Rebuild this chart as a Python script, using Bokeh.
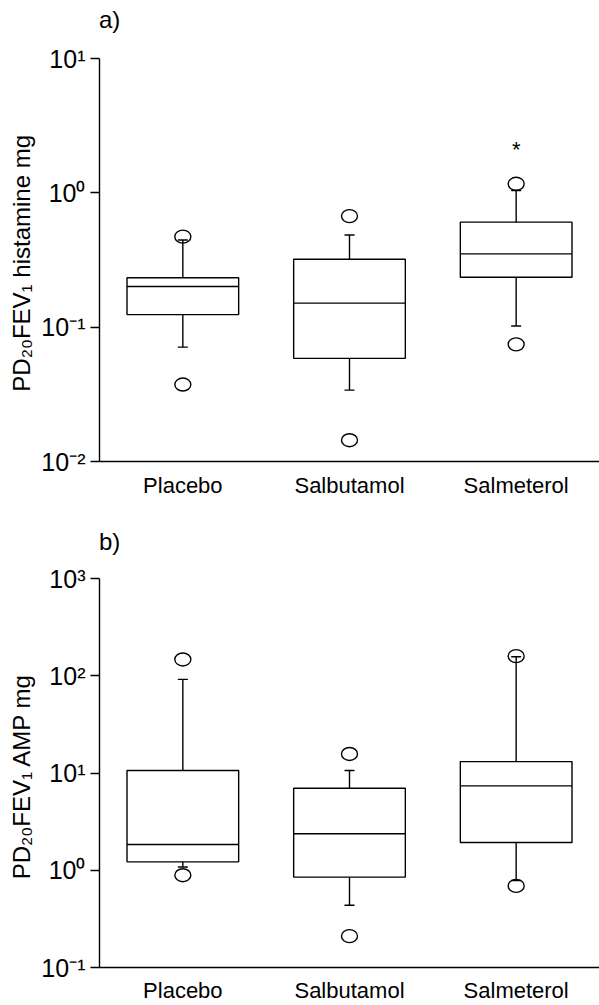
from bokeh.plotting import figure
from bokeh.models import FixedTicker, Label, Range1d, Div
from bokeh.layouts import column
from bokeh.embed import file_html
from bokeh.resources import INLINE

FONT = "Liberation Sans"

categories = ["Placebo", "Salbutamol", "Salmeterol"]
cat_x = [0.5, 1.5, 2.5]

# ---- panel a) PD20FEV1 histamine (mg)
hist_low = [0.071, 0.034, 0.102]
hist_q1 = [0.124, 0.0586, 0.2355]
hist_med = [0.201, 0.151, 0.351]
hist_q3 = [0.233, 0.320, 0.605]
hist_high = [0.445, 0.485, 1.04]
hist_out_cat = [0, 0, 1, 1, 2, 2]
hist_out_val = [0.472, 0.0374, 0.671, 0.0144, 1.167, 0.0745]
hist_star_cat = [2]
hist_star_val = [2.26]
hist_ticks = [0.01, 0.1, 1, 10]
hist_tick_labels = ["10\u207b\u00b2", "10\u207b\u00b9", "10\u2070", "10\u00b9"]

# ---- panel b) PD20FEV1 AMP (mg)
amp_low = [1.08, 0.436, 0.785]
amp_q1 = [1.22, 0.849, 1.93]
amp_med = [1.84, 2.37, 7.37]
amp_q3 = [10.6, 6.98, 13.1]
amp_high = [91.8, 10.6, 157]
amp_out_cat = [0, 0, 1, 1, 2, 2]
amp_out_val = [147, 0.889, 15.7, 0.21, 159, 0.69]
amp_ticks = [0.1, 1, 10, 100, 1000]
amp_tick_labels = ["10\u207b\u00b9", "10\u2070", "10\u00b9", "10\u00b2", "10\u00b3"]

LW = 1.4
BOX_W = 0.67


def panel(ylabel, low, q1, med, q3, high, out_cat, out_val, ticks, tick_labels,
          height, border_top, border_bottom, xstandoff, star_cat=None, star_val=None):
    p = figure(width=599, height=height, output_backend="svg", toolbar_location=None,
               x_range=Range1d(0, 3), y_range=Range1d(ticks[0], ticks[-1]),
               y_axis_type="log", min_border_left=99, min_border_right=0,
               min_border_top=border_top, min_border_bottom=border_bottom)
    p.outline_line_color = None
    p.grid.visible = False
    p.background_fill_color = "white"

    p.vbar(x=cat_x, width=BOX_W, bottom=q1, top=q3, fill_color="white",
           line_color="black", line_width=LW)
    x0 = [x - BOX_W / 2 for x in cat_x]
    x1 = [x + BOX_W / 2 for x in cat_x]
    p.segment(x0=x0, x1=x1, y0=med, y1=med, line_color="black", line_width=LW)
    p.segment(x0=cat_x, x1=cat_x, y0=q3, y1=high, line_color="black", line_width=LW)
    p.segment(x0=cat_x, x1=cat_x, y0=q1, y1=low, line_color="black", line_width=LW)
    p.scatter(x=cat_x, y=high, marker="dash", size=10, line_color="black", line_width=LW)
    p.scatter(x=cat_x, y=low, marker="dash", size=10, line_color="black", line_width=LW)
    ox = [cat_x[c] for c in out_cat]
    p.ellipse(x=ox, y=out_val, width=16, height=13, width_units="screen",
              height_units="screen", fill_color=None, line_color="black", line_width=LW)
    if star_cat:
        for c, v in zip(star_cat, star_val):
            p.add_layout(Label(x=cat_x[c], y=v, text="*", text_align="center",
                               text_baseline="middle", text_font=FONT, text_color="black",
                               text_font_size="22px", y_offset=-4))

    # y axis
    ya = p.yaxis[0]
    ya.ticker = FixedTicker(ticks=ticks)
    ya.major_label_overrides = {t: l for t, l in zip(ticks, tick_labels)}
    ya.axis_line_width = LW
    ya.major_tick_line_width = LW
    ya.major_tick_out = 9
    ya.major_tick_in = 0
    ya.minor_tick_line_color = None
    ya.major_label_standoff = 5
    ya.major_label_text_font = FONT
    ya.major_label_text_font_size = "25px"
    ya.major_label_text_color = "black"
    ya.axis_label = ylabel
    ya.axis_label_text_font = FONT
    ya.axis_label_text_font_size = "24px"
    ya.axis_label_text_font_style = "normal"
    ya.axis_label_text_color = "black"
    ya.axis_label_standoff = 3

    # x axis
    xa = p.xaxis[0]
    xa.ticker = FixedTicker(ticks=cat_x)
    xa.major_label_overrides = {x: c for x, c in zip(cat_x, categories)}
    xa.axis_line_width = LW
    xa.major_tick_line_color = None
    xa.minor_tick_line_color = None
    xa.major_label_standoff = xstandoff
    xa.major_label_text_font = FONT
    xa.major_label_text_font_size = "22px"
    xa.major_label_text_color = "black"
    return p


def tag_div(text, top):
    return Div(text=text, width=100, height=40, margin=(top, 0, 0, 99),
               styles={"font-family": FONT, "font-size": "24px", "line-height": "39px",
                       "color": "black", "white-space": "nowrap"})


p1 = panel("PD\u2082\u2080FEV\u2081 histamine  mg", hist_low, hist_q1, hist_med,
           hist_q3, hist_high, hist_out_cat, hist_out_val, hist_ticks, hist_tick_labels,
           height=466, border_top=18, border_bottom=45, xstandoff=5,
           star_cat=hist_star_cat, star_val=hist_star_val)
p2 = panel("PD\u2082\u2080FEV\u2081 AMP  mg", amp_low, amp_q1, amp_med,
           amp_q3, amp_high, amp_out_cat, amp_out_val, amp_ticks, amp_tick_labels,
           height=443, border_top=16, border_bottom=36, xstandoff=4)

layout = column(tag_div("a)", 0), p1, tag_div("b)", 16), p2, spacing=0)
open("out.html", "w").write(file_html(layout, INLINE))
